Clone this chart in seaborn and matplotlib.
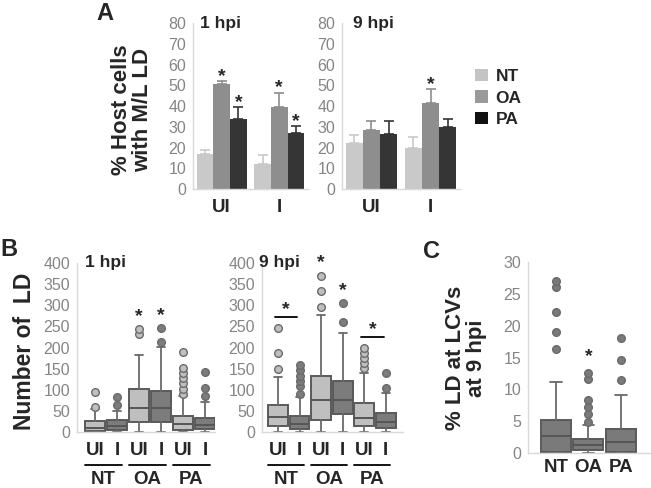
import numpy as np
import pandas as pd
import matplotlib
matplotlib.use('Agg')
import matplotlib.pyplot as plt
import matplotlib.transforms as mtransforms
from matplotlib.patches import Patch
import seaborn as sns

sns.set_style('white')
plt.rcParams['font.family'] = ['Liberation Sans', 'DejaVu Sans']

# ---- Panel A: % host cells with M/L LD (mean, upper SEM) ----
conds = ['UI', 'I']
treatments = ['NT', 'OA', 'PA']
a1_nt = [17, 12]
a1_oa = [50.5, 39.5]
a1_pa = [33.5, 27]
a1_nt_err = [2, 4.5]
a1_oa_err = [1.5, 7]
a1_pa_err = [6, 3.5]
a1_star = {'NT': [0, 0], 'OA': [1, 1], 'PA': [1, 1]}
a9_nt = [22, 20]
a9_oa = [28.5, 41.5]
a9_pa = [26.5, 30]
a9_nt_err = [4, 5]
a9_oa_err = [4.5, 6.5]
a9_pa_err = [6.5, 3.5]
a9_star = {'NT': [0, 0], 'OA': [0, 1], 'PA': [0, 0]}

# ---- Panel B: number of LD (box stats), order NT-UI, NT-I, OA-UI, OA-I, PA-UI, PA-I ----
b_ticks = ['UI', 'I', 'UI', 'I', 'UI', 'I']
b_groups = ['NT', 'OA', 'PA']
b1_med = [10, 14, 56, 57, 20, 17]
b1_q1 = [3, 5, 24, 23, 5, 6]
b1_q3 = [26, 28, 101, 98, 39, 34]
b1_lo = [0, 0, 0, 0, 0, 0]
b1_hi = [55, 50, 182, 202, 85, 71]
b1_out = [[60, 95], [64, 82], [231, 243], [214, 246],
          [90, 102, 115, 127, 139, 151, 190], [85, 103, 141]]
b1_star = [0, 0, 1, 1, 0, 0]
b9_med = [35, 18, 75, 75, 33, 24]
b9_q1 = [15, 6, 28, 42, 14, 10]
b9_q3 = [64, 39, 133, 120, 68, 44]
b9_lo = [0, 0, 0, 0, 0, 0]
b9_hi = [129, 84, 276, 235, 140, 93]
b9_out = [[148, 186, 245], [89, 109, 121, 133, 146, 159], [295, 333, 370],
          [261, 305], [152, 163, 174, 186, 198], [103, 139]]
b9_star = [0, 0, 1, 1, 0, 0]
b9_pair_star = [1, 0, 1]   # NT and PA: UI vs I

# ---- Panel C: % LD at LCVs at 9 hpi ----
c_labels = ['NT', 'OA', 'PA']
c_med = [2.6, 1.3, 1.7]
c_q1 = [0.15, 0.47, 0.15]
c_q3 = [5.2, 2.15, 3.8]
c_lo = [0, 0, 0]
c_hi = [11.1, 4.4, 9.1]
c_out = [[16.3, 19, 22.2, 26, 27], [4.8, 6.2, 7.3, 8.3, 11.6, 12.5], [11.5, 14.6, 18.1]]
c_star = [0, 1, 0]

pal = {'NT': '#c9c9c9', 'OA': '#8e8e8e', 'PA': '#353535'}
leg_pal = {'NT': '#c4c4c4', 'OA': '#999999', 'PA': '#111111'}
W, H = 651, 488
fig = plt.figure(figsize=(W / 100, H / 100), dpi=100)


def px_axes(x0, x1, ytop, ybot):
    return fig.add_axes([x0 / W, 1 - ybot / H, (x1 - x0) / W, (ybot - ytop) / H])


def style(ax, ymax, step):
    sns.despine(ax=ax)
    for s in ['left', 'bottom']:
        ax.spines[s].set_color('#d9d9d9')
        ax.spines[s].set_linewidth(1.0)
    ax.set_ylim(0, ymax)
    ax.set_yticks(np.arange(0, ymax + step / 2, step))
    ax.tick_params(axis='y', length=3, width=1, color='#d9d9d9',
                   labelsize=11.5, labelcolor='#858585', pad=2)
    ax.tick_params(axis='x', length=0, labelsize=13.5, pad=7)
    for t in ax.get_xticklabels():
        t.set_fontweight('bold')
    ax.set_xlabel('')
    ax.set_ylabel('')


def bar_panel(ax, nt, oa, pa, errs, stars, title):
    df = pd.DataFrame({'cond': conds * 3,
                       'trt': np.repeat(treatments, 2),
                       'val': nt + oa + pa})
    sns.barplot(data=df, x='cond', y='val', hue='trt', order=conds,
                hue_order=treatments, palette=pal, errorbar=None, width=0.87,
                saturation=1, legend=False, linewidth=0, ax=ax)
    for cont, trt in zip(ax.containers, treatments):
        for bar, e, s in zip(cont, errs[trt], stars[trt]):
            x = bar.get_x() + bar.get_width() / 2
            top = bar.get_height()
            ax.errorbar(x, top, yerr=[[0], [e]], color=pal[trt], lw=1.2,
                        capsize=3.5, capthick=1.2)
            if s:
                ax.annotate('*', (x, top + e), xytext=(0, 0), textcoords='offset points',
                            ha='center', va='baseline', fontsize=14, fontweight='bold')
    ax.set_xlim(-0.5, 1.5)
    style(ax, 80, 10)
    ax.set_xticks([0.5], minor=True)
    ax.tick_params(axis='x', which='minor', length=3, color='#d9d9d9', width=1)
    ax.text(0.06, 1.0, title, transform=ax.transAxes, fontsize=12.5,
            fontweight='bold', va='center')


def box_panel(ax, med, q1, q3, lo, hi, out, colors, width, capw):
    stats = [dict(med=m, q1=a, q3=b, whislo=l, whishi=h, fliers=f)
             for m, a, b, l, h, f in zip(med, q1, q3, lo, hi, out)]
    pos = np.arange(len(stats))
    art = ax.bxp(stats, positions=pos, widths=width, patch_artist=True,
                 showfliers=True, capwidths=capw,
                 boxprops=dict(edgecolor='#5a5a5a', linewidth=1.4),
                 medianprops=dict(color='#555555', linewidth=1.4),
                 whiskerprops=dict(color='#6a6a6a', linewidth=1.3),
                 capprops=dict(color='#6a6a6a', linewidth=1.3),
                 flierprops=dict(marker='o', markersize=5.5, markeredgewidth=1.0))
    for patch, c, fl in zip(art['boxes'], colors, art['fliers']):
        patch.set_facecolor(c)
        fl.set_markerfacecolor(c)
        fl.set_markeredgecolor('#6a6a6a')
    return pos


# ---- Panel A ----
ax_a1 = px_axes(193, 308, 23, 189)
bar_panel(ax_a1, a1_nt, a1_oa, a1_pa,
          {'NT': a1_nt_err, 'OA': a1_oa_err, 'PA': a1_pa_err}, a1_star, '1 hpi')
ax_a9 = px_axes(342, 460, 23, 189)
bar_panel(ax_a9, a9_nt, a9_oa, a9_pa,
          {'NT': a9_nt_err, 'OA': a9_oa_err, 'PA': a9_pa_err}, a9_star, '9 hpi')
ax_a9.texts[-1].set_position((0.09, 1.0))

handles = [Patch(facecolor=leg_pal[t], edgecolor='none', label=t) for t in treatments]
leg = fig.legend(handles=handles, loc='upper left', bbox_to_anchor=(466 / W, 1 - 60 / H),
                 frameon=False, prop=dict(weight='bold', size=12.5),
                 handlelength=0.75, handleheight=0.75, handletextpad=0.45,
                 labelspacing=0.35, borderpad=0)

fig.text(132 / W, 1 - 110 / H, '% Host cells\nwith M/L LD', rotation=90,
         ha='center', va='center', fontsize=16, fontweight='bold', linespacing=0.95)

# ---- Panel B ----
ui_i_cols = ['#bfbfbf', '#7c7c7c'] * 3
for (x0, x1), med, q1, q3, lo, hi, out, stars, xl, title, tx in [
        ((77, 215), b1_med, b1_q1, b1_q3, b1_lo, b1_hi, b1_out, b1_star, (-0.82, 5.45), '1 hpi', 0.06),
        ((262, 403), b9_med, b9_q1, b9_q3, b9_lo, b9_hi, b9_out, b9_star, (-0.74, 5.8), '9 hpi', -0.02)]:
    ax = px_axes(x0, x1, 263, 432)
    pos = box_panel(ax, med, q1, q3, lo, hi, out, ui_i_cols, 0.92, 0.36)
    for p, s, o in zip(pos, stars, out):
        if s:
            ax.annotate('*', (p, max(o)), xytext=(0, 6), textcoords='offset points',
                        ha='center', va='baseline', fontsize=14, fontweight='bold')
    ax.set_xlim(*xl)
    ax.set_xticks(pos)
    ax.set_xticklabels(b_ticks)
    style(ax, 400, 50)
    ax.tick_params(axis='x', pad=7)
    ax.text(tx, 1.0, title, transform=ax.transAxes, fontsize=12.5,
            fontweight='bold', va='center')
    line_tr = mtransforms.offset_copy(ax.get_xaxis_transform(), fig=fig, y=-33, units='dots')
    lab_tr = mtransforms.offset_copy(ax.get_xaxis_transform(), fig=fig, y=-48, units='dots')
    for g, name in enumerate(b_groups):
        c = 2 * g + 0.5
        ax.plot([c - 0.95, c + 0.72], [0, 0], color='black', lw=1.3,
                transform=line_tr, clip_on=False)
        ax.text(c - 0.12, 0, name, transform=lab_tr, ha='center', va='center',
                fontsize=13.5, fontweight='bold')
    if title == '9 hpi':
        for g, s in enumerate(b9_pair_star):
            if s:
                top = max(max(out[2 * g]), max(out[2 * g + 1]))
                ax.plot([2 * g - 0.15, 2 * g + 0.9], [top + 28, top + 28], color='black', lw=1.3)
                ax.annotate('*', (2 * g + 0.38, top + 28), xytext=(0, 2),
                            textcoords='offset points', ha='center', va='baseline',
                            fontsize=14, fontweight='bold')

fig.text(25 / W, 1 - 351 / H, 'Number of  LD', rotation=90, ha='center',
         va='center', fontsize=16.5, fontweight='bold')

# ---- Panel C ----
ax_c = px_axes(528, 650, 262, 453)
pos = box_panel(ax_c, c_med, c_q1, c_q3, c_lo, c_hi, c_out, ['#7a7a7a'] * 3, 0.93, 0.36)
for p, s, o in zip(pos, c_star, c_out):
    if s:
        ax_c.annotate('*', (p, max(o)), xytext=(0, 9), textcoords='offset points',
                      ha='center', va='baseline', fontsize=14, fontweight='bold')
ax_c.set_xlim(-0.86, 2.9)
ax_c.set_xticks(pos)
ax_c.set_xticklabels(c_labels)
style(ax_c, 30, 5)
ax_c.tick_params(axis='x', pad=4)

fig.text(466 / W, 1 - 358 / H, '% LD at LCVs\nat 9 hpi', rotation=90, ha='center',
         va='center', fontsize=16, fontweight='bold', linespacing=1.0)

# panel letters
fig.text(105 / W, 1 - 13 / H, 'A', fontsize=17, fontweight='bold', ha='center', va='center')
fig.text(9 / W, 1 - 250 / H, 'B', fontsize=17, fontweight='bold', ha='center', va='center')
fig.text(431 / W, 1 - 251 / H, 'C', fontsize=17, fontweight='bold', ha='center', va='center')

fig.savefig('out.png', dpi=100)
